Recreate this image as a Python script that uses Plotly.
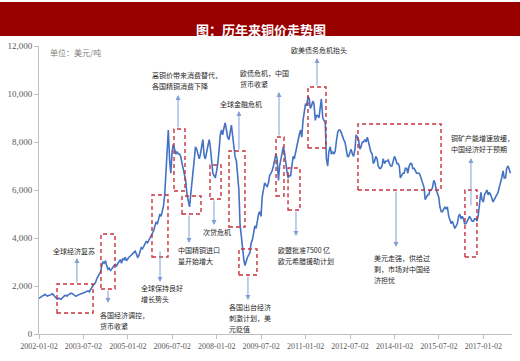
import pandas as pd
import plotly.graph_objects as go

# ---------------- data (semi-monthly LME copper, USD/t) ----------------
v2002 = [1480, 1530, 1560, 1590, 1600, 1650, 1600, 1580, 1600, 1610, 1640, 1680,
         1620, 1540, 1470, 1450, 1490, 1460, 1450, 1500, 1580, 1600, 1610, 1580]
v2003 = [1640, 1680, 1700, 1690, 1660, 1610, 1570, 1600, 1640, 1660, 1680, 1690,
         1700, 1730, 1750, 1780, 1790, 1760, 1860, 1960, 2040, 2080, 2150, 2300]
v2004 = [2400, 2480, 2600, 2850, 3000, 2950, 3050, 2850, 2700, 2750, 2650, 2700,
         2800, 2850, 2900, 2820, 2950, 3050, 3100, 2950, 3150, 3100, 3200, 3050]
v2005 = [3150, 3200, 3250, 3300, 3350, 3400, 3450, 3350, 3200, 3250, 3500, 3600,
         3550, 3650, 3800, 3850, 3800, 3900, 4000, 4100, 4200, 4300, 4500, 4650]
v2006 = [4600, 4800, 5000, 4900, 5100, 5300, 5800, 6600, 7700, 8500, 7200, 6700,
         7600, 7900, 7700, 7500, 7600, 7500, 7500, 7400, 7100, 6900, 6700, 6400]
v2007 = [5800, 5500, 5300, 5800, 6200, 6600, 7300, 7800, 7700, 7500, 7300, 7500,
         7800, 8100, 7400, 7300, 7600, 7900, 8100, 7800, 7100, 6700, 6600, 6500]
v2008 = [6800, 7100, 7700, 8300, 8500, 8300, 8600, 8800, 8500, 8200, 8100, 8500,
         8700, 8300, 7600, 7400, 7200, 6400, 6000, 4600, 4000, 3600, 3100, 2850]
v2009 = [3100, 3200, 3300, 3400, 3800, 3900, 4200, 4500, 4400, 4700, 5000, 5100,
         4900, 5700, 6100, 6300, 6200, 6150, 6300, 6600, 6700, 6800, 7000, 7300]
v2010 = [7500, 7300, 6400, 7000, 7300, 7500, 7800, 7600, 7000, 6800, 6500, 6600,
         6600, 7000, 7400, 7300, 7600, 7800, 8100, 8300, 8500, 8200, 8900, 9300]
v2011 = [9600, 9500, 9900, 9800, 9400, 9500, 9700, 9600, 8900, 9100, 9100, 9000,
         9500, 9800, 9000, 8900, 8800, 7300, 7000, 7600, 7800, 7500, 7600, 7500]
v2012 = [7600, 8000, 8400, 8500, 8500, 8400, 8200, 8100, 8000, 7700, 7400, 7400,
         7600, 7700, 7500, 7400, 7700, 8300, 8200, 8100, 7700, 7800, 8000, 8000]
v2013 = [8100, 8000, 8200, 8000, 7700, 7600, 7500, 7100, 7200, 7400, 7300, 7000,
         6900, 6900, 7000, 7300, 7100, 7200, 7200, 7250, 7100, 7000, 7000, 7250]
v2014 = [7400, 7300, 7100, 7100, 7000, 6500, 6600, 6700, 6700, 6900, 6900, 6700,
         7000, 7100, 7100, 6900, 6900, 6800, 6700, 6700, 6700, 6600, 6400, 6300]
v2015 = [6100, 5600, 5700, 5800, 5800, 6000, 6000, 6100, 6400, 6300, 6000, 5800,
         5700, 5300, 5100, 5100, 5200, 5300, 5200, 5300, 4900, 4700, 4600, 4700]
v2016 = [4500, 4400, 4500, 4600, 4900, 5000, 4800, 4900, 4800, 4600, 4600, 4700,
         4800, 4900, 4800, 4700, 4700, 4800, 4800, 4700, 5000, 5600, 5900, 5600]
v2017 = [5500, 5800, 5900, 6000, 5800, 5900, 5800, 5600, 5500, 5600, 5700, 5800,
         5900, 6100, 6300, 6500, 6800, 6500, 6500, 6900, 7000, 6800, 6700]

prices = (v2002 + v2003 + v2004 + v2005 + v2006 + v2007 + v2008 + v2009 +
          v2010 + v2011 + v2012 + v2013 + v2014 + v2015 + v2016 + v2017)
dates = list(pd.date_range("2002-01-01", periods=len(prices), freq="SMS"))
dates[0] = pd.Timestamp("2002-01-02")

tick_dates = ["2002-01-02", "2003-07-02", "2005-01-02", "2006-07-02", "2008-01-02",
              "2009-07-02", "2011-01-02", "2012-07-02", "2014-01-02", "2015-07-02",
              "2017-01-02"]
y_ticks = [0, 2000, 4000, 6000, 8000, 10000, 12000]

# event boxes: (x0, x1, y0, y1)
boxes = [
    ("2002-08-12", "2003-10-30", 875, 2083),
    ("2004-02-05", "2004-07-27", 1875, 4167),
    ("2005-10-26", "2006-05-11", 3208, 5792),
    ("2006-07-24", "2006-12-07", 5958, 8542),
    ("2006-10-31", "2007-06-22", 5000, 5750),
    ("2007-10-11", "2008-02-24", 5625, 7042),
    ("2008-06-01", "2008-12-15", 4458, 7625),
    ("2008-10-02", "2009-05-12", 2458, 3542),
    ("2010-01-02", "2010-04-10", 5750, 8208),
    ("2010-05-30", "2010-10-24", 5167, 6917),
    ("2011-01-31", "2011-09-10", 7750, 10292),
    ("2012-10-08", "2015-07-29", 6000, 8750),
    ("2016-05-19", "2016-10-14", 3208, 6000),
]
# arrows: (x, tail_y, head_y)
arrows = [
    ("2003-04-15", 2083, 3167),
    ("2004-05-02", 1875, 1292),
    ("2006-02-02", 3500, 2167),
    ("2006-09-12", 8542, 9958),
    ("2007-01-25", 5000, 3792),
    ("2007-11-29", 5625, 4542),
    ("2008-10-02", 7625, 9292),
    ("2009-01-21", 2458, 1417),
    ("2010-02-08", 8208, 10083),
    ("2010-09-05", 5167, 4083),
    ("2011-05-22", 10292, 11500),
    ("2014-01-20", 6000, 3625),
    ("2016-08-01", 5292, 7333),
]
# text blocks: (left x, first-line y, lines)
notes = [
    ("2002-05-30", 3458, ["全球经济复苏"]),
    ("2003-12-30", 792, ["各国经济调控，", "货币收紧"]),
    ("2005-05-19", 1917, ["全球保持良好", "增长势头"]),
    ("2005-10-01", 10792, ["高铜价带来消费替代，", "各国精铜消费下降"]),
    ("2006-08-18", 3500, ["中国精铜进口", "量开始增大"]),
    ("2007-06-22", 4250, ["次贷危机"]),
    ("2008-01-18", 9583, ["全球金融危机"]),
    ("2008-05-08", 1125, ["各国出台经济", "刺激计划，美", "元贬值"]),
    ("2008-09-20", 10875, ["欧债危机，中国", "货币收紧"]),
    ("2010-01-02", 3500, ["欧盟批准7500 亿", "欧元希腊援助计划"]),
    ("2010-06-11", 11833, ["欧美债务危机抬头"]),
    ("2013-03-30", 3167, ["美元走强，供给过", "剩，市场对中国经", "济担忧"]),
    ("2015-11-04", 8167, ["铜矿产能增速放缓，", "中国经济好于预期"]),
]

SERIF = "Liberation Serif, Times New Roman, serif"
CJK = "Noto Sans CJK SC"

fig = go.Figure()
fig.add_trace(go.Scatter(x=dates, y=prices, mode="lines",
                         line=dict(color="#4472C4", width=1.6), hoverinfo="skip"))

shapes = []
# title band
shapes.append(dict(type="rect", xref="paper", yref="paper",
                   x0=-0.0825, x1=1.017, y0=1.0347, y1=1.1528,
                   fillcolor="#990000", line=dict(width=0), layer="below"))
for x0, x1, y0, y1 in boxes:
    shapes.append(dict(type="rect", xref="x", yref="y", x0=x0, x1=x1, y0=y0, y1=y1,
                       line=dict(color="#C8323C", width=1.4, dash="4px,3px"),
                       fillcolor="rgba(0,0,0,0)"))

annotations = []
annotations.append(dict(text="<b>图：历年来铜价走势图</b>", xref="paper", yref="paper",
                        x=0.469, y=1.097, showarrow=False,
                        font=dict(family=CJK, size=13, color="white")))
annotations.append(dict(text="单位：美元/吨", xref="paper", yref="paper",
                        x=0.019, y=0.979, xanchor="left", yanchor="middle",
                        showarrow=False, font=dict(family=CJK, size=8, color="#7F7F7F")))
for x, ty, hy in arrows:
    annotations.append(dict(text="", x=x, y=hy, ax=x, ay=ty, xref="x", yref="y",
                            axref="x", ayref="y", showarrow=True, arrowhead=2,
                            arrowsize=1, arrowwidth=1, arrowcolor="#7F9FD6",
                            standoff=0, startstandoff=0))
for x, y, lines in notes:
    for i, t in enumerate(lines):
        annotations.append(dict(text=t, x=x, y=y, xref="x", yref="y",
                                xanchor="left", yanchor="middle", yshift=-11 * i,
                                showarrow=False,
                                font=dict(family=CJK, size=7, color="#262626")))

fig.update_layout(
    width=520, height=361,
    margin=dict(l=39, r=8, t=46, b=27),
    paper_bgcolor="white", plot_bgcolor="white",
    showlegend=False,
    shapes=shapes, annotations=annotations,
    xaxis=dict(type="date", range=["2002-01-02", "2017-12-20"],
               tickvals=tick_dates, ticktext=tick_dates,
               showgrid=False, zeroline=False,
               showline=True, linecolor="#BFBFBF", linewidth=1,
               ticks="outside", ticklen=4, tickcolor="#BFBFBF",
               tickfont=dict(family=SERIF, size=8, color="#595959")),
    yaxis=dict(range=[0, 12000], tickvals=y_ticks, tickformat=",",
               showgrid=False, zeroline=False,
               showline=True, linecolor="#BFBFBF", linewidth=1,
               ticks="outside", ticklen=4, tickcolor="#BFBFBF",
               tickfont=dict(family=SERIF, size=9, color="#595959")),
)

fig.write_html("out.html", config={"displayModeBar": False},
               post_script="document.body.style.margin='0';document.body.style.overflow='hidden';")
